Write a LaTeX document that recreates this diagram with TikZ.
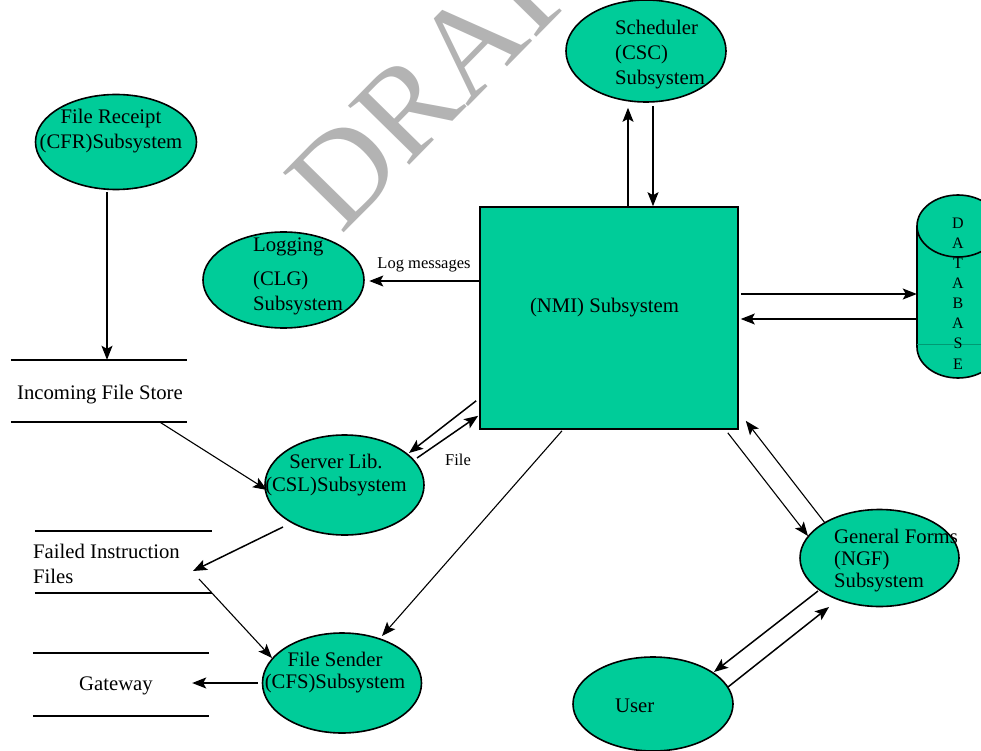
\documentclass[tikz,border=0pt]{standalone}
\usepackage{fontspec}
\setmainfont{Liberation Serif}
\usetikzlibrary{shapes.geometric,arrows.meta,calc}
\definecolor{proc}{RGB}{0,204,153}
\definecolor{wm}{RGB}{179,179,179}
\begin{document}
\begin{tikzpicture}[x=1pt,y=-1pt,
  bubble/.style={ellipse, draw=black, line width=1.6pt, fill=proc, inner sep=0pt},
  lbl/.style={inner sep=0pt, font=\fontsize{20.7}{25}\selectfont, align=left, shift={(0,3)}},
  small/.style={inner sep=0pt, font=\fontsize{16.5}{20}\selectfont, shift={(0,1.5)}},
  flow/.style={-{Stealth[length=14pt,width=11pt,inset=3pt]}, line width=1.5pt},
  thinflow/.style={flow, line width=1.1pt},
  store/.style={draw=none, inner sep=0pt},
  storeline/.style={line width=2pt}]

\useasboundingbox (0,0) rectangle (981,751);
\clip (0,0) rectangle (981,751);

% watermark
\node[rotate=45.5, anchor=base west, inner sep=0pt, text=wm,
      font=\fontsize{130}{130}\selectfont] (wmark) at (341,236) {DRAFT};

% central process
\node[draw=black, line width=1.6pt, fill=proc, minimum width=258, minimum height=222,
      inner sep=0pt] (nmi) at (609,318) {};
\node[lbl] (nmi-t) at (604.5,305) {(NMI) Subsystem};

% subsystems
\node[bubble, minimum width=160, minimum height=102] (csc) at (646,51) {};
\node[lbl, anchor=west] (csc-t) at (615,52) {Scheduler\\(CSC)\\Subsystem};

\node[bubble, minimum width=161, minimum height=95] (cfr) at (116,142) {};
\node[lbl, align=center] (cfr-t) at (111,128) {File Receipt\\(CFR)Subsystem};

\node[bubble, minimum width=161, minimum height=96] (clg) at (283.5,280) {};
\node[lbl, anchor=west] (clg-t) at (253,273) {Logging\\[9pt](CLG)\\Subsystem};

\node[bubble, minimum width=159, minimum height=100] (csl) at (344.5,485) {};
\node[lbl, align=center, font=\fontsize{20.7}{23}\selectfont] (csl-t) at (336,472.5) {Server Lib.\\(CSL)Subsystem};

\node[bubble, minimum width=159, minimum height=100] (cfs) at (342,683) {};
\node[lbl, align=center, font=\fontsize{20.7}{22}\selectfont] (cfs-t) at (335,670) {File Sender\\(CFS)Subsystem};

\node[bubble, minimum width=159, minimum height=97] (ngf) at (879.5,558) {};
\node[lbl, anchor=west, font=\fontsize{20.7}{22}\selectfont] (ngf-t) at (834,558) {General Forms\\(NGF)\\Subsystem};

\node[bubble, minimum width=160, minimum height=94] (user) at (653,704) {};
\node[lbl, anchor=west] (user-t) at (615,703) {User};

% database
\node[draw=none, minimum width=82, minimum height=183, inner sep=0pt] (db) at (958,286.5) {};
\fill[proc] (917,226) rectangle (999,347);
\fill[proc] (958,347) ellipse (41pt and 31pt);
\draw[line width=1.6pt] (917,226) -- (917,347)
   arc[start angle=180, end angle=360, x radius=41pt, y radius=31pt] -- (999,226);
\draw[line width=1.6pt, fill=proc] (958,226) ellipse (41pt and 31pt);
\draw[proc!75!black, line width=0.8pt] (917,344) -- (999,344);
\node[inner sep=0pt, font=\fontsize{16}{20.1}\selectfont, align=center] (db-t) at (958,293.5)
   {D\\A\\T\\A\\B\\A\\S\\E};

% data stores
\node[store, minimum width=176, minimum height=62] (inc) at (99,391) {};
\draw[storeline] (inc.north west) -- (inc.north east);
\draw[storeline] (inc.south west) -- (inc.south east);
\node[lbl] (inc-t) at (100,392) {Incoming File Store};

\node[store, minimum width=177, minimum height=62] (fail) at (123.5,562) {};
\draw[storeline] (fail.north west) -- (fail.north east);
\draw[storeline] (fail.south west) -- (fail.south east);
\node[lbl, anchor=west, font=\fontsize{20.7}{25}\selectfont] (fail-t) at (33,561) {Failed Instruction\\Files};

\node[store, minimum width=176, minimum height=63] (gw) at (121,684.5) {};
\draw[storeline] (gw.north west) -- (gw.north east);
\draw[storeline] (gw.south west) -- (gw.south east);
\node[lbl] (gw-t) at (116,683) {Gateway};

% flows
\draw[flow] ([shift={(19,0)}]nmi.north) -- ([shift={(-18,5)}]csc.south);
\draw[flow] ([shift={(7,3)}]csc.south) -- ([shift={(44,0)}]nmi.north);

\draw[flow] ([shift={(0,-37)}]nmi.west) -- ([shift={(4.5,1)}]clg.east);
\node[small] (logmsg) at (424,263) {Log messages};

\draw[flow] ([shift={(2,-24)}]nmi.east) -- ([shift={(0,7.5)}]db.west);
\draw[flow] ([shift={(0,32.5)}]db.west) -- ([shift={(2,1)}]nmi.east);

\draw[flow] ([shift={(-3,-29)}]nmi.south west) -- ([shift={(64.5,-32)}]csl.center);
\draw[flow] ([shift={(72.5,-27)}]csl.center) -- ([shift={(-1,-14)}]nmi.south west);
\node[small] (file) at (458,458) {File};

\draw[flow] ([shift={(-9,2)}]cfr.south) -- ([shift={(8,0)}]inc.north);
\draw[thinflow] ([shift={(61,0)}]inc.south) -- ([shift={(-77.5,5)}]csl.center);

\draw[flow] ([shift={(-61.5,42)}]csl.center) -- ([shift={(69.5,9)}]fail.center);
\draw[thinflow] ([shift={(75.5,17)}]fail.center) -- ([shift={(-70,-25)}]cfs.center);
\draw[thinflow] ([shift={(-47,1)}]nmi.south) -- ([shift={(40,-47)}]cfs.center);
\draw[flow] ([shift={(-4,0)}]cfs.west) -- ([shift={(-17,-1.5)}]gw.east);

\draw[thinflow] ([shift={(-11,3)}]nmi.south east) -- ([shift={(-71.5,-22)}]ngf.center);
\draw[thinflow] ([shift={(-54.5,-35)}]ngf.center) -- ([shift={(7,-9)}]nmi.south east);

\draw[flow] ([shift={(-61.5,33)}]ngf.center) -- ([shift={(61,-32)}]user.center);
\draw[flow] ([shift={(75,-17)}]user.center) -- ([shift={(-50.5,49)}]ngf.center);
\end{tikzpicture}
\end{document}
